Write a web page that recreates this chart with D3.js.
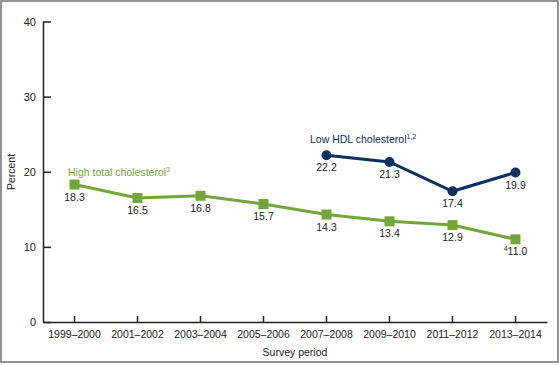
<!DOCTYPE html>
<html><head><meta charset="utf-8">
<script src="https://cdn.jsdelivr.net/npm/d3@7"></script>
<style>body{margin:0;background:#fff}svg{display:block;font-family:"Liberation Sans",Arial,sans-serif}</style>
</head><body><svg id="c" width="560" height="366"></svg>
<script>
const periods = ["1999–2000","2001–2002","2003–2004","2005–2006","2007–2008","2009–2010","2011–2012","2013–2014"];
const highTotal = [18.3,16.5,16.8,15.7,14.3,13.4,12.9,11.0];
const lowHDL = [null,null,null,null,22.2,21.3,17.4,19.9];
const yTicks = [0,10,20,30,40];

const svg = d3.select("#c");
const green = "#74a53a", navy = "#0f2f5f", text = "#222";
const fs = 10.5;
svg.append("rect").attr("x",1).attr("y",1).attr("width",557).attr("height",361)
  .attr("fill","none").attr("stroke","#6f6f6f").attr("stroke-width",1.5);

const x = d3.scaleBand().domain(periods).range([43,547]);
const y = d3.scaleLinear().domain([0,40]).range([322,21.5]);
const cx = d => x(d) + x.bandwidth()/2;

// y axis
const ya = svg.append("g").attr("transform","translate(43,0)")
  .call(d3.axisLeft(y).tickValues(yTicks).tickSizeInner(-8).tickSizeOuter(0).tickPadding(7));
ya.select(".domain").attr("stroke","#222").attr("stroke-width",1.5);
ya.selectAll(".tick line").attr("stroke","#222").attr("stroke-width",1.5);
ya.selectAll(".tick text").attr("font-size",fs+0.5).attr("fill",text).attr("font-family","Liberation Sans, Arial, sans-serif").attr("x",-7);

// x axis
const xa = svg.append("g").attr("transform","translate(0,322)")
  .call(d3.axisBottom(x).tickSizeInner(-6).tickSizeOuter(0).tickPadding(7));
xa.select(".domain").attr("stroke","#222").attr("stroke-width",1.5);
xa.selectAll(".tick line").attr("stroke","#222").attr("stroke-width",1.5);
xa.selectAll(".tick text").attr("font-size",fs).attr("fill",text).attr("font-family","Liberation Sans, Arial, sans-serif").attr("y",9);

svg.append("text").attr("x",295).attr("y",356).attr("text-anchor","middle").attr("font-size",fs).attr("fill",text).text("Survey period");
svg.append("text").attr("transform","translate(15,172) rotate(-90)").attr("text-anchor","middle").attr("font-size",fs).attr("fill",text).text("Percent");

// lines
const line = d3.line().defined(d => d.v != null).x(d => cx(d.p)).y(d => y(d.v));
const gData = periods.map((p,i)=>({p, v: highTotal[i]}));
const bData = periods.map((p,i)=>({p, v: lowHDL[i]}));
svg.append("path").datum(gData).attr("d",line).attr("fill","none").attr("stroke",green).attr("stroke-width",3);
svg.append("path").datum(bData).attr("d",line).attr("fill","none").attr("stroke",navy).attr("stroke-width",3);

svg.selectAll(".sq").data(gData).join("rect").attr("x",d=>cx(d.p)-5).attr("y",d=>y(d.v)-5)
  .attr("width",10).attr("height",10).attr("fill",green);
svg.selectAll(".ci").data(bData.filter(d=>d.v!=null)).join("circle").attr("cx",d=>cx(d.p)).attr("cy",d=>y(d.v))
  .attr("r",5).attr("fill",navy);

// value labels
svg.selectAll(".gl").data(gData).join("text").attr("x",d=>cx(d.p)).attr("y",d=>y(d.v)+16)
  .attr("text-anchor","middle").attr("font-size",fs).attr("fill",text)
  .each(function(d,i){
    const t = d3.select(this);
    if(i===periods.length-1){ t.append("tspan").attr("font-size",7).attr("dy",-4).text("4"); t.append("tspan").attr("dy",4).text(d.v.toFixed(1)); }
    else t.text(d.v.toFixed(1));
  });
svg.selectAll(".bl").data(bData.filter(d=>d.v!=null)).join("text").attr("x",d=>cx(d.p)).attr("y",d=>y(d.v)+16)
  .attr("text-anchor","middle").attr("font-size",fs).attr("fill",text).text(d=>d.v.toFixed(1));

// series labels
const g1 = svg.append("text").attr("x",68).attr("y",176).attr("font-size",fs).attr("fill",green);
g1.append("tspan").text("High total cholesterol");
g1.append("tspan").attr("font-size",7).attr("dy",-4).text("3");
const b1 = svg.append("text").attr("x",310).attr("y",143).attr("font-size",fs).attr("fill",navy);
b1.append("tspan").text("Low HDL cholesterol");
b1.append("tspan").attr("font-size",7).attr("dy",-4).text("1,2");
</script></body></html>
